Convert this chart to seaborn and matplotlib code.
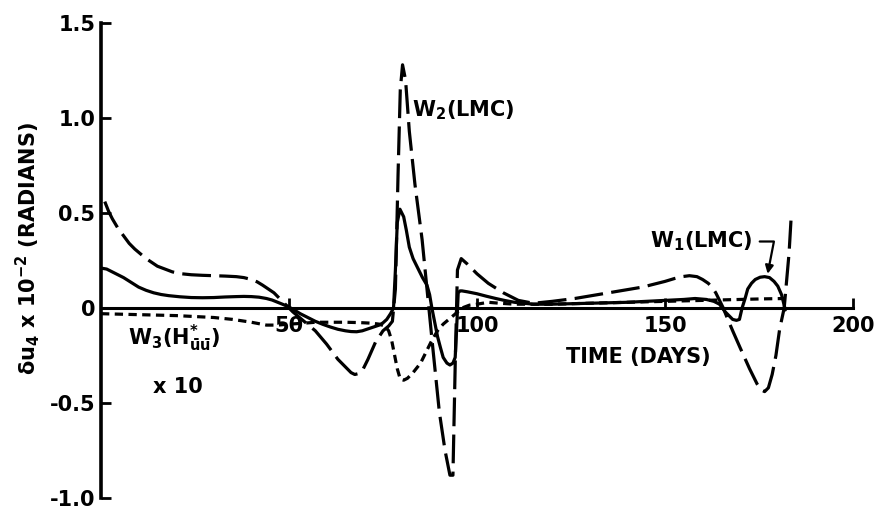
import matplotlib
matplotlib.use('Agg')
import matplotlib.pyplot as plt
import seaborn as sns

# ---- data ----
days_w1 = [0, 1.5, 3, 4.5, 6, 8, 10, 12, 14, 16, 18, 21, 24, 27, 30, 33, 36, 38, 40, 42, 44, 45.5,
           47, 48.5, 50, 51.5, 53, 55, 57, 59, 61, 63, 65, 66.5, 68, 69.5, 71, 72.5, 74, 75, 76,
           77, 77.8, 78.3, 78.8, 79.5, 80.5, 81.2, 82, 83, 84, 85.5, 86.7, 87.4, 88, 88.8, 89.5,
           90.3, 91, 92, 92.8, 93.6, 94.2, 94.6, 95, 95.5, 96, 97.5, 100, 102.5, 105, 107.5, 110,
           115, 120, 130, 140, 150, 155, 158, 161, 163, 164.5, 166, 167, 168, 169, 169.8, 170.5,
           171.3, 172, 173, 174, 175.3, 176.5, 177.8, 179, 180, 181, 181.5, 182]
w1 = [0.21, 0.205, 0.19, 0.175, 0.16, 0.135, 0.11, 0.093, 0.08, 0.071, 0.065, 0.059, 0.055, 0.054,
      0.055, 0.058, 0.06, 0.061, 0.06, 0.057, 0.05, 0.042, 0.03, 0.018, 0.005, -0.012, -0.03,
      -0.05, -0.07, -0.086, -0.10, -0.112, -0.12, -0.124, -0.125, -0.12, -0.11, -0.1, -0.09,
      -0.078, -0.06, -0.03, 0.0, 0.2, 0.45, 0.52, 0.48, 0.41, 0.32, 0.26, 0.22, 0.16, 0.12, 0.07,
      0.0, -0.08, -0.15, -0.21, -0.26, -0.29, -0.30, -0.29, -0.26, -0.1, 0.08, 0.09, 0.09,
      0.085, 0.075, 0.062, 0.05, 0.039, 0.03, 0.02, 0.02, 0.025, 0.03, 0.04, 0.045, 0.05, 0.045,
      0.035, 0.02, -0.02, -0.04, -0.06, -0.065, -0.06, 0.0, 0.05, 0.10, 0.13, 0.15, 0.162,
      0.165, 0.16, 0.14, 0.115, 0.07, 0.03, -0.01]

days_w2 = [1, 2, 3, 4.5, 6, 7.5, 9, 10.5, 12, 13.5, 15, 17, 19, 21.5, 24, 27, 30, 33, 36, 38, 40,
           41.5, 43, 44.5, 46, 47.5, 49, 51, 54, 57, 60, 63, 65, 66.5, 67.5, 68.5, 69.5, 71, 73,
           75, 76.5, 77.5, 78.3, 79, 79.6, 80.2, 81, 82, 83.5, 85.4, 86.7, 88.3, 90, 91.5, 92.8,
           93.6, 94.2, 94.8, 95.8, 97.5, 100, 103, 107, 111, 115, 120, 126, 132, 138, 144, 150,
           152.5, 154.5, 156.5, 158.5, 160, 161.5, 162.5, 163.5, 164.5, 165.5, 166.5, 168, 170,
           172.5, 174.5, 175.5, 176.5, 177.5, 178.5, 179.5, 180.5, 181.7, 183, 183.5]
w2 = [0.56, 0.51, 0.47, 0.42, 0.38, 0.34, 0.31, 0.285, 0.26, 0.24, 0.22, 0.205, 0.19, 0.18,
      0.175, 0.172, 0.17, 0.168, 0.165, 0.16, 0.15, 0.138, 0.12, 0.10, 0.08, 0.05, 0.02, -0.02,
      -0.07, -0.12, -0.19, -0.27, -0.31, -0.34, -0.35, -0.345, -0.33, -0.27, -0.18, -0.12,
      -0.095, -0.07, 0.1, 0.7, 1.15, 1.28, 1.2, 0.93, 0.65, 0.36, 0.1, -0.22, -0.55, -0.75,
      -0.88, -0.88, -0.3, 0.2, 0.26, 0.23, 0.18, 0.13, 0.08, 0.04, 0.025, 0.035, 0.05, 0.07,
      0.09, 0.11, 0.14, 0.155, 0.165, 0.17, 0.165, 0.15, 0.13, 0.11, 0.08, 0.04, 0.0, -0.05,
      -0.12, -0.21, -0.32, -0.40, -0.43, -0.44, -0.42, -0.35, -0.25, -0.11, 0.0, 0.29, 0.46]

days_w3 = [0, 10, 20, 30, 35, 40, 44, 47, 50, 54, 57, 61, 65, 69, 72, 74, 75.5, 76.5, 77.3, 78,
           78.8, 79.6, 80.5, 81.5, 83, 85, 86.5, 88, 89.5, 91, 92.5, 94, 96, 98, 100, 103, 106,
           110, 115, 120, 130, 140, 150, 160, 170, 176, 182]
w3 = [-0.03, -0.035, -0.04, -0.05, -0.06, -0.075, -0.09, -0.09, -0.085, -0.08, -0.075, -0.075,
      -0.075, -0.077, -0.08, -0.085, -0.095, -0.12, -0.17, -0.24, -0.32, -0.375, -0.38, -0.37,
      -0.34, -0.29, -0.23, -0.17, -0.12, -0.085, -0.06, -0.035, 0.0, 0.015, 0.02, 0.03, 0.025,
      0.02, 0.02, 0.02, 0.025, 0.03, 0.035, 0.04, 0.045, 0.048, 0.05]

x_ticks = [50, 100, 150, 200]
y_ticks = [-1.0, -0.5, 0, 0.5, 1.0, 1.5]
y_tick_labels = ['-1.0', '-0.5', '0', '0.5', '1.0', '1.5']

# ---- style ----
sns.set_style('ticks')
plt.rcParams['font.family'] = ['DejaVu Sans']
plt.rcParams['font.weight'] = 'bold'
plt.rcParams['text.color'] = 'black'
plt.rcParams['axes.edgecolor'] = 'black'
plt.rcParams['axes.labelcolor'] = 'black'
plt.rcParams['xtick.color'] = 'black'
plt.rcParams['ytick.color'] = 'black'
plt.rcParams['mathtext.fontset'] = 'custom'
plt.rcParams['mathtext.rm'] = 'DejaVu Sans:bold'
plt.rcParams['mathtext.it'] = 'DejaVu Sans:bold'
plt.rcParams['mathtext.bf'] = 'DejaVu Sans:bold'
plt.rcParams['mathtext.default'] = 'rm'

fig = plt.figure(figsize=(8.84, 5.09), dpi=100)
ax = fig.add_axes([101 / 884, 11 / 509, 752 / 884, 475 / 509])

lw = 2.3
sns.lineplot(x=days_w1, y=w1, ax=ax, color='black', lw=lw, estimator=None)
sns.lineplot(x=days_w2, y=w2, ax=ax, color='black', lw=lw, estimator=None,
             linestyle=(0, (9, 2.6)))
sns.lineplot(x=days_w3, y=w3, ax=ax, color='black', lw=lw, estimator=None,
             linestyle=(0, (2.6, 1.7)))

ax.set_xlim(0, 200)
ax.set_ylim(-1.0, 1.5)
ax.spines['top'].set_visible(False)
ax.spines['right'].set_visible(False)
ax.spines['bottom'].set_position(('data', 0))
ax.spines['bottom'].set_linewidth(2.2)
ax.spines['left'].set_linewidth(2.6)
ax.spines['bottom'].set_zorder(1)

ax.set_xticks(x_ticks)
ax.set_xticklabels([str(t) for t in x_ticks])
ax.set_yticks(y_ticks)
ax.set_yticklabels(y_tick_labels)
ax.tick_params(axis='both', direction='in', length=7, width=2, labelsize=15,
               color='black', labelcolor='black')
ax.tick_params(axis='x', pad=6)
ax.tick_params(axis='y', pad=4)
for lab in ax.get_xticklabels():
    lab.set_bbox(dict(facecolor='white', edgecolor='none', pad=0.5))
ax.set_xlabel('')
ax.set_ylabel('')

# ---- annotations ----
ax.text(82.7, 1.04, r'W$_2$(LMC)', fontsize=15, ha='left', va='center', color='black')
ax.annotate(r'W$_1$(LMC)', xy=(177.3, 0.18), xytext=(145.9, 0.35),
            fontsize=15, ha='left', va='center', color='black',
            arrowprops=dict(arrowstyle='-|>', color='black', lw=1.6, mutation_scale=12,
                            shrinkA=3, shrinkB=0,
                            connectionstyle='angle,angleA=0,angleB=79,rad=0'))
ax.text(7.2, -0.158, r'W$_3$(H$^{*}_{\bar{u}\bar{u}}$)', fontsize=15, ha='left', va='center',
        color='black')
ax.text(20.5, -0.416, 'x 10', fontsize=15, ha='center', va='center', color='black')
ax.text(143, -0.26, 'TIME (DAYS)', fontsize=15, ha='center', va='center', color='black')

fig.text(28 / 884, 1 - 249 / 509, r'$\delta$u$_4$ x 10$^{-2}$ (RADIANS)', rotation=90,
         fontsize=15, ha='center', va='center', color='black')

fig.savefig('out.png', dpi=100, facecolor='white')
